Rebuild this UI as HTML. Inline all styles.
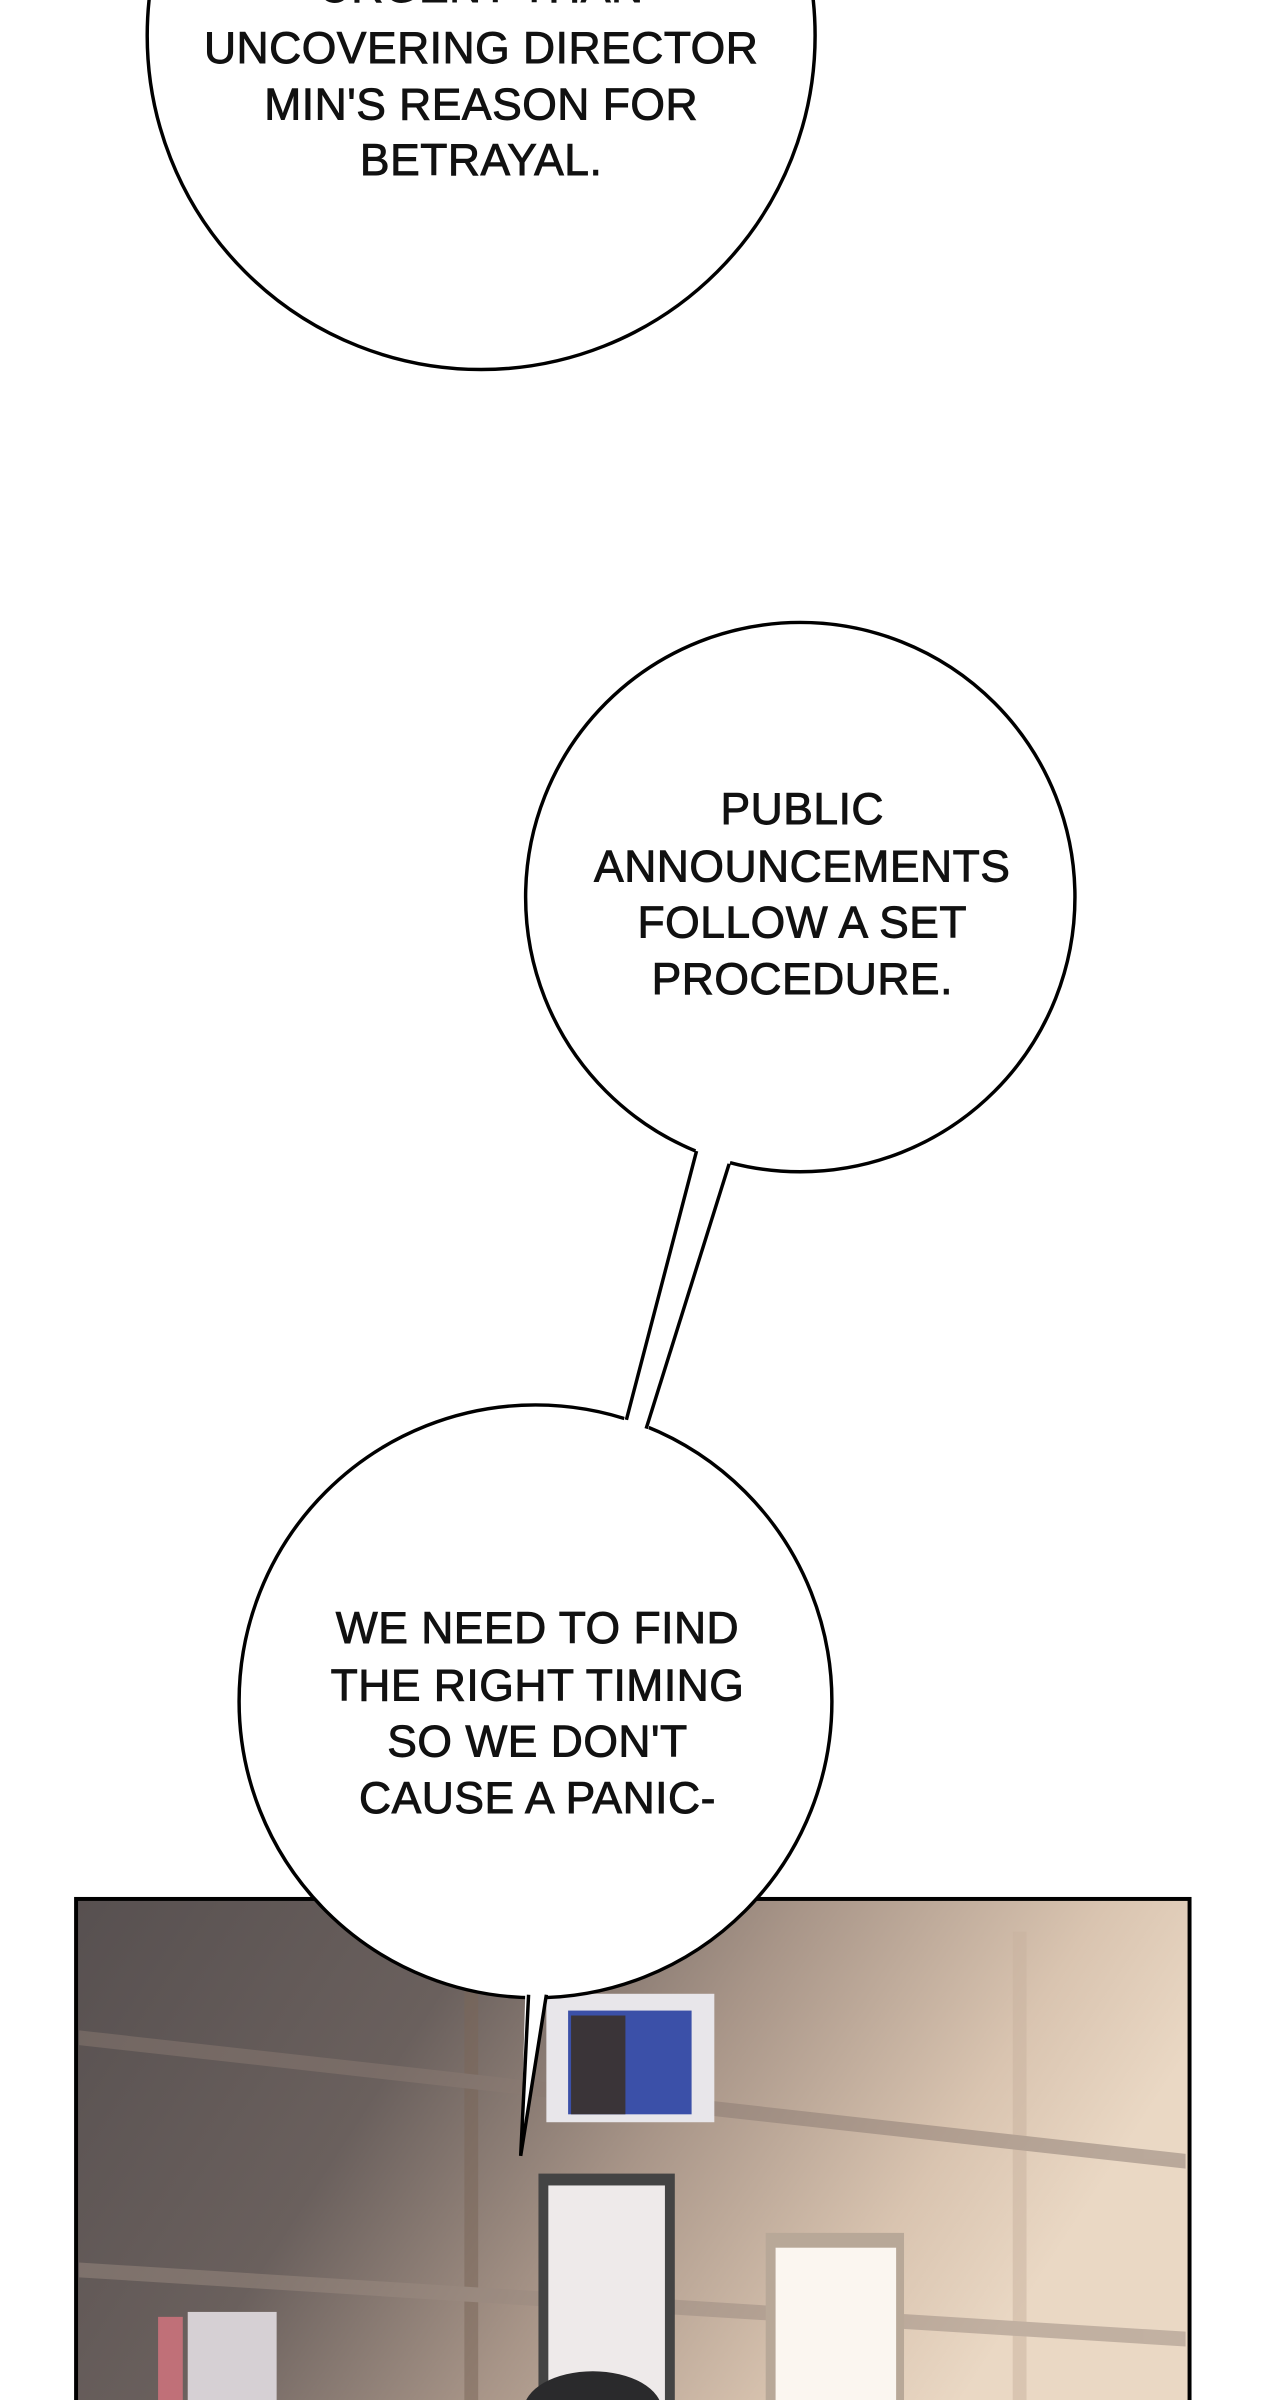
<!DOCTYPE html>
<html><head><meta charset="utf-8"><style>
html,body{margin:0;padding:0;background:#fff;}
svg{display:block}
text{font-family:"Liberation Sans",sans-serif;font-size:45px;fill:#111;stroke:#111;stroke-width:0.9px;text-anchor:middle;letter-spacing:0.5px}
</style></head><body>
<svg width="1280" height="2400" viewBox="0 0 1280 2400" xmlns="http://www.w3.org/2000/svg">
<defs>
<linearGradient id="bg" x1="0" y1="0" x2="1" y2="0.3">
<stop offset="0" stop-color="#575050"/>
<stop offset="0.35" stop-color="#6a605d"/>
<stop offset="0.6" stop-color="#a89588"/>
<stop offset="0.85" stop-color="#d9c4b0"/>
<stop offset="1" stop-color="#ead8c4"/>
</linearGradient>
</defs>
<g transform="scale(0.988)">
<rect x="77" y="1922" width="1127" height="520" fill="url(#bg)" stroke="#000" stroke-width="4"/>
<g opacity="0.5">
<rect x="470" y="1960" width="14" height="480" fill="#7a6658"/>
<rect x="1025" y="1955" width="14" height="485" fill="#c9b3a0"/>
<polygon points="80,2055 1200,2180 1200,2195 80,2070" fill="#8a7a72"/>
<polygon points="80,2290 1200,2360 1200,2375 80,2305" fill="#9a8a80"/>
</g>
<rect x="553" y="2018" width="170" height="130" fill="#e8e6ea"/>
<rect x="575" y="2035" width="125" height="105" fill="#3b50a8"/>
<rect x="578" y="2040" width="55" height="100" fill="#3a3438"/>
<rect x="545" y="2200" width="138" height="240" fill="#444"/>
<rect x="555" y="2212" width="118" height="228" fill="#eeeaea"/>
<rect x="775" y="2260" width="140" height="180" fill="#b8a898"/>
<rect x="785" y="2275" width="122" height="165" fill="#fbf6f0"/>
<rect x="160" y="2345" width="25" height="95" fill="#c07078"/>
<rect x="190" y="2340" width="90" height="100" fill="#d6d0d4"/>
<ellipse cx="600" cy="2440" rx="70" ry="40" fill="#2a2a2c"/>
<circle cx="487" cy="36" r="338" fill="#fff" stroke="#000" stroke-width="3.5"/>
<circle cx="810" cy="908" r="278" fill="#fff" stroke="#000" stroke-width="3.5"/>
<circle cx="542" cy="1722" r="300" fill="#fff" stroke="#000" stroke-width="3.5"/>
<polygon points="708,1150 744,1160 652,1460 628,1450" fill="#fff"/>
<line x1="705" y1="1165" x2="634" y2="1437" stroke="#000" stroke-width="3.5"/>
<line x1="738" y1="1178" x2="654" y2="1446" stroke="#000" stroke-width="3.5"/>
<polygon points="532,2005 556,2005 527,2182" fill="#fff"/>
<polyline points="535,2019 527,2182 553,2019" fill="none" stroke="#000" stroke-width="3.5"/>
<text x="487" y="2">URGENT THAN</text>
<text x="487" y="64">UNCOVERING DIRECTOR</text>
<text x="487" y="121">MIN'S REASON FOR</text>
<text x="487" y="177">BETRAYAL.</text>
<text x="812" y="834">PUBLIC</text>
<text x="812" y="892">ANNOUNCEMENTS</text>
<text x="812" y="949">FOLLOW A SET</text>
<text x="812" y="1006">PROCEDURE.</text>
<text x="544" y="1663">WE NEED TO FIND</text>
<text x="544" y="1721">THE RIGHT TIMING</text>
<text x="544" y="1778">SO WE DON'T</text>
<text x="544" y="1835">CAUSE A PANIC-</text>
</g>
</svg>
</body></html>
